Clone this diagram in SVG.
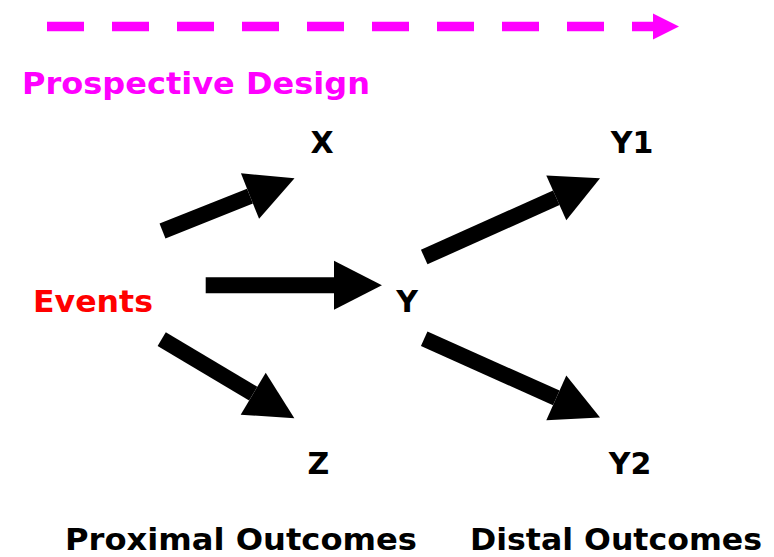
<svg xmlns="http://www.w3.org/2000/svg" width="774" height="557" viewBox="0 0 774 557">
<style>
text{font-family:"DejaVu Sans","Liberation Sans",sans-serif;font-weight:bold;font-size:30px;fill:#000}
.mid{text-anchor:middle}
.conn{stroke:#000;stroke-width:16;fill:none;marker-end:url(#head)}
</style>
<defs>
<marker id="head" markerUnits="userSpaceOnUse" markerWidth="50" markerHeight="50" viewBox="0 -24 46 48" refX="0" refY="0" orient="auto" overflow="visible">
<path d="M0,-23.5 L46,0 L0,23.5 Z" fill="#000"/>
</marker>
</defs>
<g id="timeline">
<line x1="47" y1="26.5" x2="653" y2="26.5" stroke="#FF00FF" stroke-width="9.5" stroke-dasharray="37 28"/>
<polygon points="653,13.5 679,26.5 653,39.5" fill="#FF00FF"/>
</g>
<g id="prospective"><text x="22" y="94" textLength="348" lengthAdjust="spacingAndGlyphs" style="fill:#FF00FF">Prospective Design</text></g>
<g id="events"><text x="33" y="312" textLength="120" lengthAdjust="spacingAndGlyphs" style="fill:#FF0000">Events</text></g>
<g id="X"><text class="mid" x="322" y="153">X</text></g>
<g id="Y"><text class="mid" x="407" y="312">Y</text></g>
<g id="Z"><text class="mid" x="318.5" y="474">Z</text></g>
<g id="Y1"><text class="mid" x="632" y="153">Y1</text></g>
<g id="Y2"><text class="mid" x="630" y="474">Y2</text></g>
<g id="proximal"><text x="65" y="549.5" textLength="352" lengthAdjust="spacingAndGlyphs">Proximal Outcomes</text></g>
<g id="distal"><text x="470" y="549.5" textLength="292" lengthAdjust="spacingAndGlyphs">Distal Outcomes</text></g>
<g id="connectors">
<line class="conn" x1="162.5" y1="231" x2="250" y2="196.1"/>
<line class="conn" x1="205.7" y1="285.3" x2="334" y2="285.3"/>
<line class="conn" x1="161.7" y1="339.2" x2="253.2" y2="393.7"/>
<line class="conn" x1="424.2" y1="257" x2="556.3" y2="197.8"/>
<line class="conn" x1="424.2" y1="338.8" x2="556.3" y2="397.9"/>
</g>
</svg>
